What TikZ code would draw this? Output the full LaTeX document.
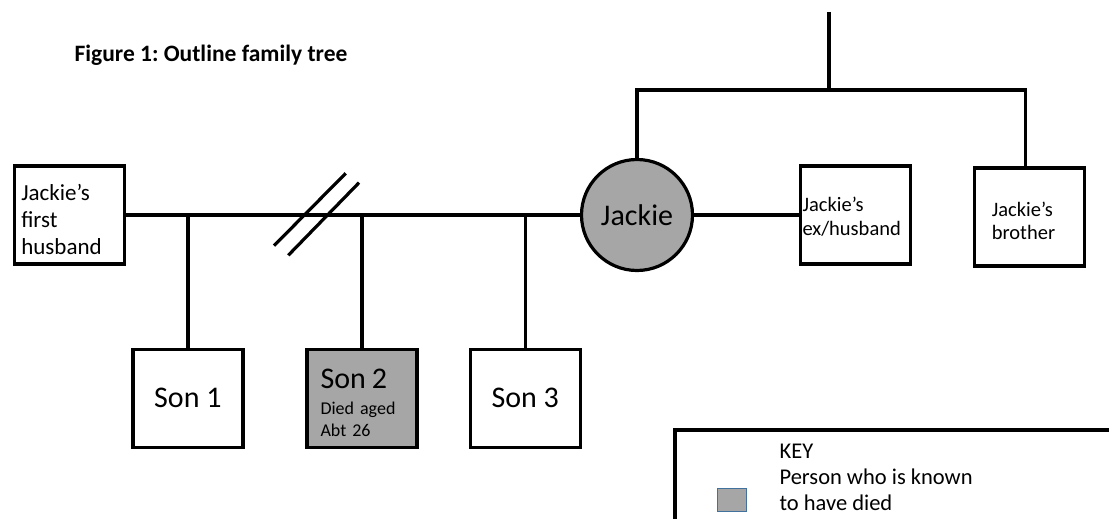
\documentclass[tikz,border=0pt]{standalone}
\usepackage{fontspec}
\setmainfont{Carlito}
\newcommand{\sz}[2]{\fontsize{#1}{#2}\selectfont}
\newcommand{\up}[1]{\rule{0pt}{#1}}
\definecolor{keyblue}{HTML}{41719C}
\frenchspacing

\begin{document}
\begin{tikzpicture}[x=1pt,y=-1pt,line width=3.2pt,
  person/.style = {draw,rectangle,minimum width=110pt,minimum height=98pt,inner sep=0pt},
  died/.style = {person,fill=black!35}]
\useasboundingbox (0,0) rectangle (1109,519);
\node[anchor=base west,inner sep=0pt,font=\sz{23.5}{28}\bfseries] (title) at (73,61.7) {Figure 1: Outline family tree};
\node[person,align=left,text width=96pt,font=\sz{23}{27}] (1) at (69.3,215) {\up{24.5pt}Jackie’s\\first\\husband};
\node[circle,draw,fill=black!35,minimum size=111pt,inner sep=0pt,font=\sz{30}{36}] (2) at (637,215) {Jackie};
\node[person,align=left,text width=106pt,font=\sz{20.5}{24}] (3) at (855.5,215) {\up{18pt}Jackie’s\\ex/husband};
\node[person,align=left,text width=75pt,font=\sz{20.5}{23.5}] (6) at (1029.3,217) {\up{22pt}Jackie’s\\brother};
\node[person,font=\sz{30}{36}] (4) at (187.9,398.3) {Son 1};
\node[died,align=left,text width=83pt,font=\sz{18}{21.5}] (5) at (362,398.3) {{\sz{30}{30}\up{29pt}Son 2}\\[4.5pt]Died aged\\Abt 26};
\node[person,font=\sz{30}{36}] (7) at (525.3,398.3) {Son 3};
\coordinate (top) at (829,12);
\coordinate (join) at (829,90);
\draw (1) -- (2);
\draw (2) -- (3);
\draw (4) -- (4 |- 1);
\draw (5) -- (5 |- 1);
\draw (7) -- (7 |- 1);
\draw (274,245.7) -- (345.7,173.3);
\draw (288.3,255.3) -- (359,182.7);
\draw (top) -- (join);
\draw (2) |- (join) -| ([xshift=-4pt]6.north);
% key
\draw (1115,430) -- (675,430) -- (675,525);
\node[draw=keyblue,line width=1pt,fill=black!35,minimum width=29pt,minimum height=23pt,inner sep=0pt] (8) at (731.7,499.5) {};
\node[anchor=north west,align=left,inner sep=0pt,font=\sz{22.5}{26}] (9) at (778,442) {KEY\\Person who is known\\to have died};
\end{tikzpicture}
\end{document}
